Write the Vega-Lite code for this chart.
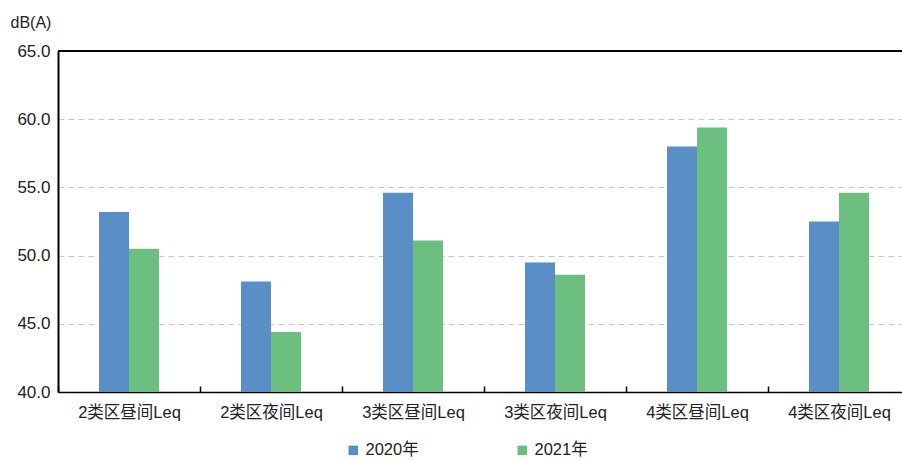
{
  "$schema": "https://vega.github.io/schema/vega-lite/v6.json",
  "width": 844,
  "height": 341,
  "autosize": {"type": "none"},
  "padding": {"left": 58, "top": 51, "right": 0, "bottom": 69},
  "background": "white",
  "config": {
    "view": {"stroke": null},
    "font": "Liberation Sans, Noto Sans CJK SC"
  },
  "data": {
    "values": [
      {"cat": "2类区昼间Leq", "year": "2020年", "value": 53.2},
      {"cat": "2类区昼间Leq", "year": "2021年", "value": 50.5},
      {"cat": "2类区夜间Leq", "year": "2020年", "value": 48.1},
      {"cat": "2类区夜间Leq", "year": "2021年", "value": 44.4},
      {"cat": "3类区昼间Leq", "year": "2020年", "value": 54.6},
      {"cat": "3类区昼间Leq", "year": "2021年", "value": 51.1},
      {"cat": "3类区夜间Leq", "year": "2020年", "value": 49.5},
      {"cat": "3类区夜间Leq", "year": "2021年", "value": 48.6},
      {"cat": "4类区昼间Leq", "year": "2020年", "value": 58.0},
      {"cat": "4类区昼间Leq", "year": "2021年", "value": 59.4},
      {"cat": "4类区夜间Leq", "year": "2020年", "value": 52.5},
      {"cat": "4类区夜间Leq", "year": "2021年", "value": 54.6}
    ]
  },
  "layer": [
    {
      "mark": {"type": "bar"},
      "encoding": {
        "x": {
          "field": "cat",
          "type": "nominal",
          "sort": null,
          "scale": {"paddingInner": 0, "paddingOuter": 0, "rangeMax": 852},
          "axis": {
            "title": null,
            "labelAngle": 0,
            "labelFontSize": 16.5,
            "labelColor": "#222",
            "domainColor": "#000",
            "domainWidth": 1.5,
            "tickBand": "extent",
            "tickColor": "#000",
            "tickSize": -6,
            "tickWidth": 1.5,
            "labelPadding": 18
          }
        },
        "xOffset": {
          "field": "year",
          "type": "nominal",
          "scale": {"domain": ["a", "2020年", "2021年", "b"], "paddingInner": 0, "paddingOuter": 0.367}
        },
        "y": {
          "field": "value",
          "type": "quantitative",
          "scale": {"domain": [40, 65], "nice": false, "zero": false, "clamp": true},
          "axis": {
            "title": "dB(A)",
            "titleAngle": 0,
            "titleX": -48,
            "titleY": -29,
            "titleAlign": "left",
            "titleBaseline": "middle",
            "titleFontSize": 16,
            "titleFontWeight": "normal",
            "titleColor": "#222",
            "values": [40, 45, 50, 55, 60, 65],
            "format": ".1f",
            "labelFontSize": 17,
            "labelColor": "#222",
            "labelPadding": 8,
            "ticks": false,
            "domainColor": "#000",
            "domainWidth": 2,
            "gridColor": "#c8c8c8",
            "gridDash": [6, 4],
            "gridWidth": 1
          }
        },
        "color": {
          "field": "year",
          "type": "nominal",
          "scale": {"range": ["#5a8fc6", "#6cbf7f"]},
          "legend": {
            "title": null,
            "orient": "none",
            "direction": "horizontal",
            "legendX": 287,
            "legendY": 391,
            "symbolType": "square",
            "symbolSize": 90,
            "symbolStrokeWidth": 0,
            "labelFontSize": 16.5,
            "labelColor": "#222",
            "labelOffset": 4,
            "columnPadding": 95
          }
        }
      }
    },
    {
      "mark": {"type": "rule", "color": "#000", "strokeWidth": 2},
      "encoding": {"y": {"datum": 65}}
    }
  ]
}
